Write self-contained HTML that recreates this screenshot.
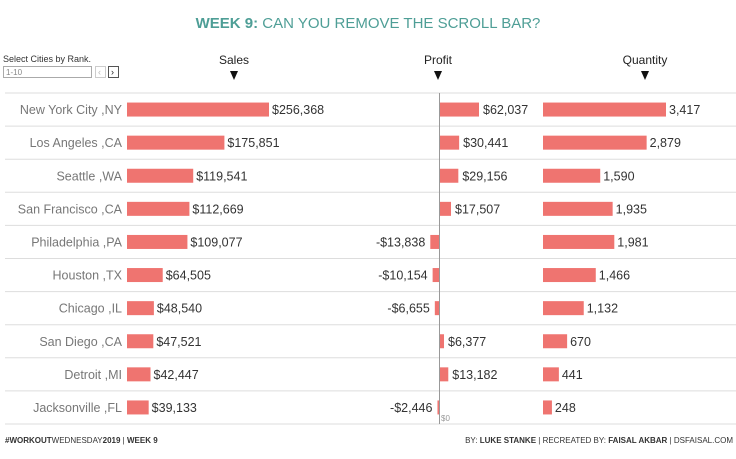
<!DOCTYPE html>
<html><head><meta charset="utf-8"><style>
body{margin:0;background:#fff;font-family:"Liberation Sans",sans-serif}
svg text{font-family:"Liberation Sans",sans-serif}
</style></head><body>
<svg id="c" width="736" height="454">
<text x="368" y="28" text-anchor="middle" font-size="15" fill="#4e9e96"><tspan font-weight="bold">WEEK 9:</tspan> CAN YOU REMOVE THE SCROLL BAR?</text>
<text x="3" y="62" font-size="9" fill="#333">Select Cities by Rank.</text>
<rect x="3.5" y="66.5" width="88" height="11" fill="#fff" stroke="#aaa"/>
<text x="6" y="75" font-size="8" fill="#888">1-10</text>
<rect x="95.5" y="66.5" width="10" height="11" fill="#fff" stroke="#ccc"/>
<text x="98" y="75" font-size="9" fill="#bbb">‹</text>
<rect x="108.5" y="66.5" width="10" height="11" fill="#fff" stroke="#555"/>
<text x="111" y="75" font-size="9" fill="#222">›</text>
<g id="hdr"></g>
<g id="rows"></g>
<text x="5" y="443" font-size="8" fill="#333"><tspan font-weight="bold">#WORKOUT</tspan>WEDNESDAY<tspan font-weight="bold">2019</tspan> | <tspan font-weight="bold">WEEK 9</tspan></text>
<text x="733" y="443" text-anchor="end" font-size="8" fill="#333">BY: <tspan font-weight="bold">LUKE STANKE</tspan> | RECREATED BY: <tspan font-weight="bold">FAISAL AKBAR</tspan> | DSFAISAL.COM</text>
</svg>
<script>
const cities=["New York City ,NY","Los Angeles ,CA","Seattle ,WA","San Francisco ,CA","Philadelphia ,PA","Houston ,TX","Chicago ,IL","San Diego ,CA","Detroit ,MI","Jacksonville ,FL"];
const sales=[256368,175851,119541,112669,109077,64505,48540,47521,42447,39133];
const profit=[62037,30441,29156,17507,-13838,-10154,-6655,6377,13182,-2446];
const quantity=[3417,2879,1590,1935,1981,1466,1132,670,441,248];
const NS="http://www.w3.org/2000/svg";
const svg=document.getElementById('c'),rows=document.getElementById('rows'),hdr=document.getElementById('hdr');
function mk(t,a,p){const e=document.createElementNS(NS,t);for(const k in a)e.setAttribute(k,a[k]);(p||rows).appendChild(e);return e;}
const sx=v=>v*142/256368, px=v=>v*39/62037, qx=v=>v*123/3417;
const x0S=127,x0P=439,x0Q=543,top0=93,rh=33.1,bh=14;
const fm=v=>(v<0?"-":"")+"$"+Math.abs(v).toLocaleString("en-US");
[["Sales",234],["Profit",438],["Quantity",645]].forEach(([t,x])=>{
 let e=mk('text',{x:x,y:64,'text-anchor':'middle','font-size':12,fill:'#222'},hdr);e.textContent=t;
 
 
 let s=mk('polygon',{points:`${x-4},71 ${x+4},71 ${x},80`,fill:'#111'},hdr);
 
 
});
for(let i=0;i<=cities.length;i++){
 let l=mk('line',{x1:5,x2:736,y1:top0+i*rh,y2:top0+i*rh,stroke:'#ddd'});
 
 
}
let ax=mk('line',{x1:x0P+0.5,x2:x0P+0.5,y1:top0,y2:424,stroke:'#999'});


let z=mk('text',{x:441,y:421,'font-size':8,fill:'#999'});z.textContent="$0";


cities.forEach((c,i)=>{
 const cy=top0+i*rh+rh/2, by=cy-bh/2, ty=cy+4.5;
 let t=mk('text',{x:122,y:ty,'text-anchor':'end','font-size':12.5,fill:'#777'});t.textContent=c;
 
 
 let w=sx(sales[i]);
 let b=mk('rect',{x:x0S,y:by,width:w,height:bh,fill:'#ef7470'});
 
 
 t=mk('text',{x:x0S+w+3,y:ty,'font-size':12.5,fill:'#333'});t.textContent=fm(sales[i]);
 
 
 let p=profit[i],pw=Math.abs(px(p));
 b=mk('rect',{x:p<0?x0P-pw:x0P+1,y:by,width:pw,height:bh,fill:'#ef7470'});
 
 
 t=mk('text',{x:p<0?x0P-pw-5:x0P+pw+5,y:ty,'text-anchor':p<0?'end':'start','font-size':12.5,fill:'#333'});t.textContent=fm(p);
 
 
 let q=qx(quantity[i]);
 b=mk('rect',{x:x0Q,y:by,width:q,height:bh,fill:'#ef7470'});
 
 
 t=mk('text',{x:x0Q+q+3,y:ty,'font-size':12.5,fill:'#333'});t.textContent=quantity[i].toLocaleString("en-US");
 
 
});
</script>
</body></html>
